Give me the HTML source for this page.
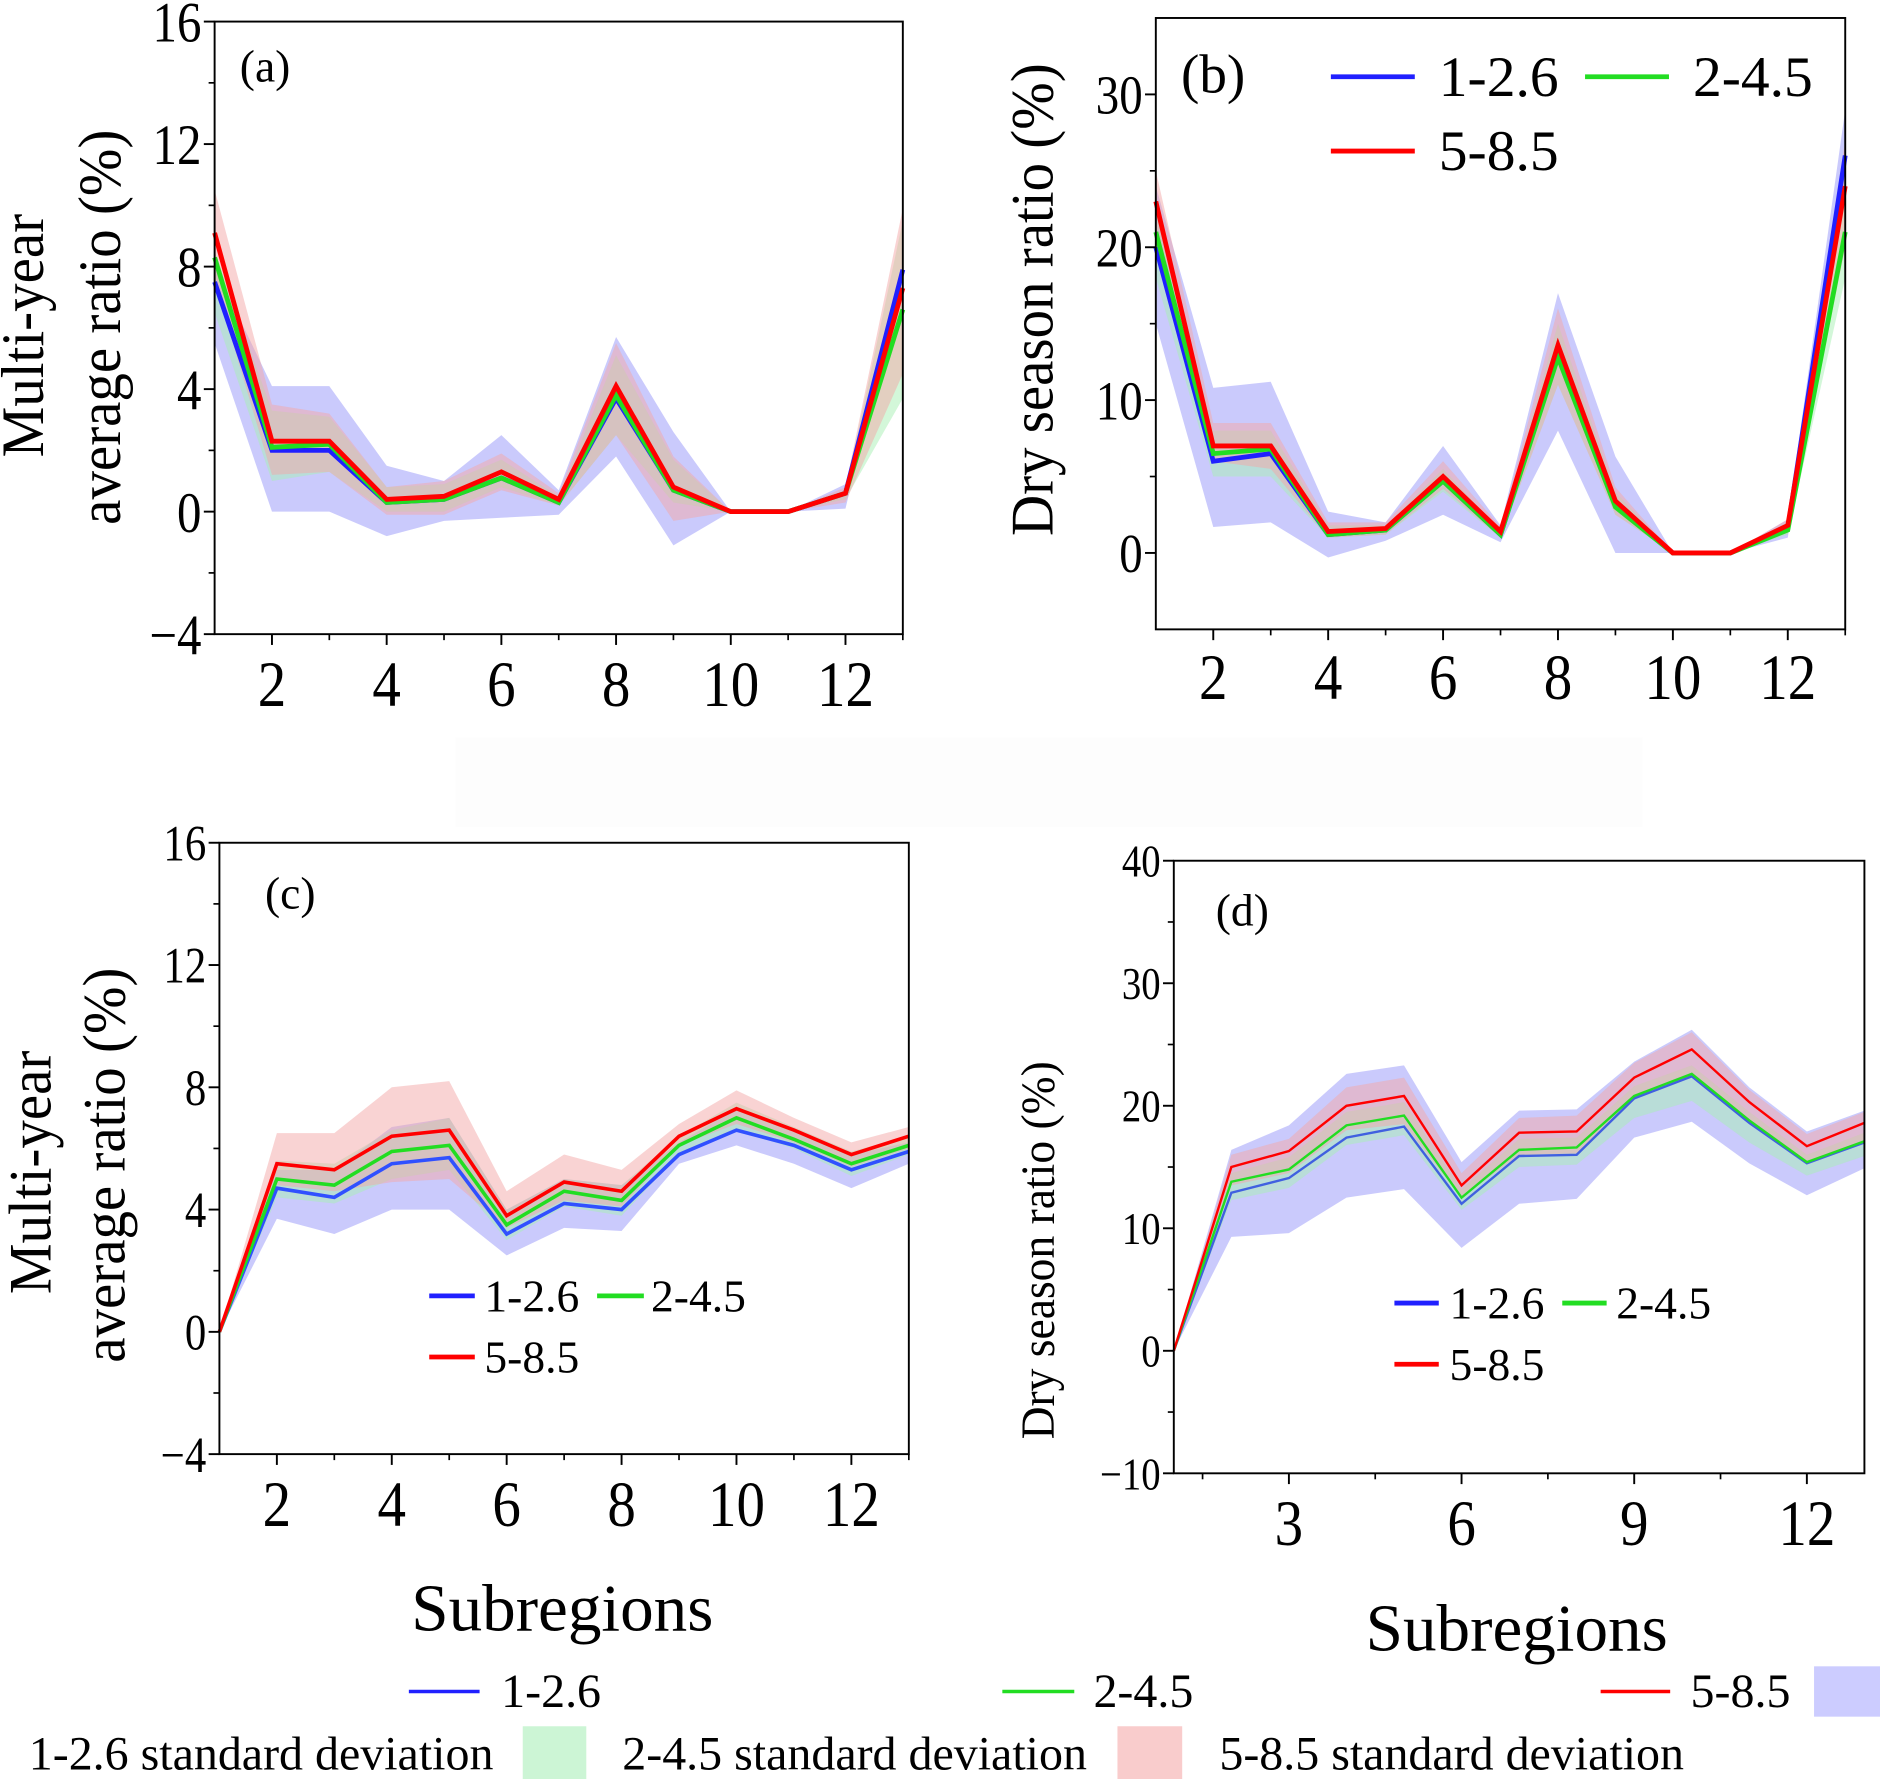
<!DOCTYPE html>
<html><head><meta charset="utf-8"><style>
html,body{margin:0;padding:0;background:#fff}
svg{display:block;font-family:"Liberation Serif",serif}
text{font-family:"Liberation Serif",serif}
</style></head><body>
<svg id="fig" width="1880" height="1779" viewBox="0 0 1568 1484" preserveAspectRatio="none" xmlns="http://www.w3.org/2000/svg">
<rect x="380" y="615" width="990" height="75" fill="#fdfdfd"/>
</svg>
<script>
const categories=[1,2,3,4,5,6,7,8,9,10,11,12,13];
// panel a
const aRed=[9.1,2.3,2.3,0.4,0.5,1.3,0.4,4.1,0.8,0,0,0.6,7.3];
const aGreen=[8.3,2.1,2.2,0.3,0.4,1.1,0.3,3.8,0.7,0,0,0.6,6.6];
const aBlue=[7.5,2.0,2.0,0.3,0.4,1.1,0.3,3.7,0.7,0,0,0.6,7.9];
const aBlueLo=[5.5,0,0,-0.8,-0.3,-0.2,-0.1,1.8,-1.1,0,0,0.1,7.9];
const aBlueHi=[8,4.1,4.1,1.5,1.0,2.5,0.7,5.7,2.6,0,0,0.9,7.9];
const aGreenLo=[6.5,1.0,1.3,0,0,0.8,0.2,2.5,0.3,0,0,0.4,3.7];
const aGreenHi=[8.5,3.3,3.1,0.8,0.9,1.7,0.5,5.1,1.7,0,0,0.7,9.5];
const aRedLo=[7.5,1.2,1.3,-0.1,-0.1,0.7,0.2,2.5,-0.3,0,0,0.3,4.5];
const aRedHi=[10.5,3.5,3.2,0.8,1.0,1.9,0.6,5.5,1.8,0,0,0.8,9.9];
// panel b
const bRed=[23,7,7,1.4,1.6,5,1.4,13.6,3.4,0,0,1.8,24];
const bGreen=[21,6.5,6.8,1.2,1.5,4.7,1.2,12.8,3,0,0,1.5,21];
const bBlue=[20,6,6.5,1.2,1.5,4.7,1.2,13,3.1,0,0,1.6,26];
const bBlueLo=[15,1.7,2,-0.3,0.8,2.5,0.7,8,0,0,0,1,24];
const bBlueHi=[24,10.8,11.2,2.7,2,7,1.8,17,6.3,0,0,2.2,29];
const bGreenLo=[18,5,5,1,1.2,4,1,11,2.5,0,0,1.2,18];
const bGreenHi=[23,8,8,1.8,1.8,5.5,1.5,15,4,0,0,2,25];
const bRedLo=[20,6,5.5,1,1.2,4.2,1,11,2.5,0,0,1.3,20];
const bRedHi=[25,8.5,8.5,2,2,6,1.7,16,4.3,0,0,2.2,27];
// panel c
const cRed=[0,5.5,5.3,6.4,6.6,3.8,4.9,4.6,6.4,7.3,6.6,5.8,6.4];
const cGreen=[0,5.0,4.8,5.9,6.1,3.5,4.6,4.3,6.1,7.0,6.3,5.5,6.1];
const cBlue=[0,4.7,4.4,5.5,5.7,3.2,4.2,4.0,5.8,6.6,6.1,5.3,5.9];
const cBlueLo=[0,3.7,3.2,4.0,4.0,2.5,3.4,3.3,5.5,6.1,5.5,4.7,5.5];
const cBlueHi=[0,5.3,5.3,6.7,7.0,4.0,5.0,4.8,6.2,7.3,6.6,5.8,6.2];
const cGreenLo=[0,4.4,4.2,5.0,5.3,3.0,4.1,3.8,5.8,6.6,6.0,5.1,5.8];
const cGreenHi=[0,5.6,5.5,6.6,7.0,4.0,5.0,4.8,6.4,7.5,6.7,5.9,6.4];
const cRedLo=[0,4.8,4.6,4.9,5.0,3.4,4.3,4.1,6.1,6.8,6.2,5.4,6.0];
const cRedHi=[0,6.5,6.5,8.0,8.2,4.6,5.8,5.3,6.8,7.9,7.0,6.2,6.7];
// panel d
const dRed=[0,15,16.3,20,20.8,13.5,17.8,17.9,22.3,24.6,20.3,16.7,18.6];
const dGreen=[0,13.8,14.8,18.4,19.2,12.5,16.4,16.6,20.8,22.6,18.8,15.4,17.1];
const dBlue=[0,12.9,14.1,17.4,18.3,12.0,15.9,16.0,20.6,22.4,18.6,15.3,17.0];
const dBlueLo=[0,9.3,9.6,12.5,13.2,8.4,12.0,12.4,17.4,18.7,15.3,12.7,14.9];
const dBlueHi=[0,16.4,18.4,22.6,23.3,15.4,19.6,19.7,23.6,26.2,21.5,17.9,19.6];
const dGreenLo=[0,12.3,13.3,16.8,17.6,11.5,15.0,15.2,19.0,20.4,17.0,14.3,15.9];
const dGreenHi=[0,14.5,15.8,19.5,20.3,13.2,17.3,17.4,21.6,23.3,19.5,16.0,17.8];
const dRedLo=[0,13.5,14.5,18,18.5,12.5,16,16.1,20.5,22.5,18.5,15.3,17.2];
const dRedHi=[0,16,17.3,21.5,22.3,14.5,19,19.2,23.5,26,21.3,17.7,19.5];
const ticksA=[-4,0,4,8,12,16];
const ticksB=[0,10,20,30];
const ticksD=[-10,0,10,20,30,40];
const xTicksEven=[2,4,6,8,10,12];
const xTicks3=[3,6,9,12];

const NS="http://www.w3.org/2000/svg";
const svg=document.getElementById('fig');
const FF='"Liberation Serif", serif';
function el(tag,attrs,parent,text){const e=document.createElementNS(NS,tag);for(const k in attrs)e.setAttribute(k,attrs[k]);if(tag==='text')e.setAttribute('font-family',FF);if(text!==undefined)e.textContent=text;(parent||svg).appendChild(e);return e;}

function panel(o){
  const g=el('g',{});
  
  
  const xs=v=>o.L+(v-1)*(o.R-o.L)/12;
  const ys=v=>o.B-(v-o.ymin)*(o.B-o.T)/(o.ymax-o.ymin);
  function band(lo,hi,fill,op,nm){
    let d='M'+categories.map((c,i)=>xs(c)+','+ys(hi[i])).join('L');
    d+='L'+categories.slice().reverse().map((c,j)=>{const i=12-j;return xs(c)+','+ys(lo[i]);}).join('L')+'Z';
    const p=el('path',{d:d,fill:fill,'fill-opacity':op},g);
    
    
  }
  band(o.bLo,o.bHi,'#b4b4fb',0.7,'band-1-2.6');
  band(o.gLo,o.gHi,'#a8efb4',0.5,'band-2-4.5');
  band(o.rLo,o.rHi,'#f3a8a8',0.5,'band-5-8.5');
  function line(vals,col,nm){
    const p=el('polyline',{points:categories.map((c,i)=>xs(c)+','+ys(vals[i])).join(' '),fill:'none',stroke:col,'stroke-width':o.lw,'stroke-linejoin':'miter'},g);
    
    
  }
  line(o.blue,o.blueCol||'#2020ff','line-1-2.6');
  line(o.green,'#22dd22','line-2-4.5');
  line(o.red,'#ff0000','line-5-8.5');
  const fr=el('rect',{x:o.L,y:o.T,width:o.R-o.L,height:o.B-o.T,fill:'none',stroke:'#000','stroke-width':1.6},g);
  
  
  const step=o.yt[1]-o.yt[0];
  o.yt.forEach((t,i)=>{
    el('line',{x1:o.L-9,x2:o.L,y1:ys(t),y2:ys(t),stroke:'#000','stroke-width':1.6},g);
    if(i<o.yt.length-1){const m=t+step/2;el('line',{x1:o.L-5,x2:o.L,y1:ys(m),y2:ys(m),stroke:'#000','stroke-width':1.4},g);}
    const tx=el('text',{x:0,y:0,'text-anchor':'end','font-size':o.yfs,transform:'translate('+(o.L-11)+','+(ys(t)+o.yfs*0.35)+') scale(0.85,1)'},g,(t<0?'\u2212'+(-t):t));
    
    
  });
  const xstep=o.xt[1]-o.xt[0];
  o.xt.forEach(t=>{
    el('line',{x1:xs(t),x2:xs(t),y1:o.B,y2:o.B+9,stroke:'#000','stroke-width':1.6},g);
    const m=t-xstep/2; if(m>1) el('line',{x1:xs(m),x2:xs(m),y1:o.B,y2:o.B+5,stroke:'#000','stroke-width':1.4},g);
    const tx=el('text',{x:0,y:0,'text-anchor':'middle','font-size':o.xfs,transform:'translate('+xs(t)+','+(o.B+o.xdy)+') scale(0.88,1)'},g,t);
    
    
  });
  const last=o.xt[o.xt.length-1]+xstep/2; if(last<=13) el('line',{x1:xs(last),x2:xs(last),y1:o.B,y2:o.B+5,stroke:'#000','stroke-width':1.4},g);
  const lb=el('text',{x:o.lx,y:o.ly,'font-size':o.lfs},g,o.label);
  
  
  o.titles.forEach(t=>{
    const tt=el('text',{x:0,y:0,'text-anchor':'middle','font-size':t.fs,transform:'translate('+t.x+','+t.y+') rotate(-90) scale(0.95,1)'},g,t.s);
    
    
  });
}
panel({name:'panel-a',L:179,R:753,T:18,B:529,ymin:-4,ymax:16,yt:ticksA,xt:xTicksEven,yfs:48,xfs:54,xdy:60,lw:4,
 red:aRed,green:aGreen,blue:aBlue,bLo:aBlueLo,bHi:aBlueHi,gLo:aGreenLo,gHi:aGreenHi,rLo:aRedLo,rHi:aRedHi,
 label:'(a)',lx:200,ly:68,lfs:38,titles:[{s:'Multi-year',x:36,y:280,fs:50},{s:'average ratio (%)',x:100,y:273,fs:50}]});
panel({name:'panel-b',L:964,R:1539,T:15,B:525,ymin:-5,ymax:35,yt:ticksB,xt:xTicksEven,yfs:46,xfs:54,xdy:58,lw:4,
 red:bRed,green:bGreen,blue:bBlue,bLo:bBlueLo,bHi:bBlueHi,gLo:bGreenLo,gHi:bGreenHi,rLo:bRedLo,rHi:bRedHi,
 label:'(b)',lx:985,ly:77,lfs:46,titles:[{s:'Dry season ratio (%)',x:878,y:250,fs:50}]});
panel({name:'panel-c',L:183,R:758,T:703,B:1213,ymin:-4,ymax:16,yt:ticksA,xt:xTicksEven,yfs:42,xfs:54,xdy:60,lw:3,
 red:cRed,green:cGreen,blue:cBlue,bLo:cBlueLo,bHi:cBlueHi,gLo:cGreenLo,gHi:cGreenHi,rLo:cRedLo,rHi:cRedHi,blueCol:'#3050ff',
 label:'(c)',lx:221,ly:758,lfs:38,titles:[{s:'Multi-year',x:42,y:978,fs:50},{s:'average ratio (%)',x:104,y:972,fs:50}]});
panel({name:'panel-d',L:979,R:1555,T:718,B:1229,ymin:-10,ymax:40,yt:ticksD,xt:xTicks3,yfs:38,xfs:54,xdy:60,lw:2,
 red:dRed,green:dGreen,blue:dBlue,bLo:dBlueLo,bHi:dBlueHi,gLo:dGreenLo,gHi:dGreenHi,rLo:dRedLo,rHi:dRedHi,blueCol:'#4060e0',
 label:'(d)',lx:1014,ly:772,lfs:38,titles:[{s:'Dry season ratio (%)',x:879,y:1043,fs:40}]});

function legLine(x1,x2,y,col,w,nm){const l=el('line',{x1:x1,x2:x2,y1:y,y2:y,stroke:col,'stroke-width':w});}
function txt(x,y,fs,s,nm){const t=el('text',{x:x,y:y,'font-size':fs},svg,s);}
legLine(1110,1180,64,'#2020ff',4,'legend-b-line-1-2.6');txt(1200,80,48,'1-2.6','legend-b-label-1-2.6');
legLine(1322,1392,64,'#22dd22',4,'legend-b-line-2-4.5');txt(1412,80,48,'2-4.5','legend-b-label-2-4.5');
legLine(1110,1180,126,'#ff0000',4,'legend-b-line-5-8.5');txt(1200,142,48,'5-8.5','legend-b-label-5-8.5');
legLine(358,396,1081,'#2020ff',4,'legend-c-line-1-2.6');txt(404,1094,38,'1-2.6','legend-c-label-1-2.6');
legLine(498,537,1081,'#22dd22',4,'legend-c-line-2-4.5');txt(543,1094,38,'2-4.5','legend-c-label-2-4.5');
legLine(358,396,1132,'#ff0000',4,'legend-c-line-5-8.5');txt(404,1145,38,'5-8.5','legend-c-label-5-8.5');
legLine(1163,1200,1087,'#2020ff',4,'legend-d-line-1-2.6');txt(1209,1100,38,'1-2.6','legend-d-label-1-2.6');
legLine(1303,1340,1087,'#22dd22',4,'legend-d-line-2-4.5');txt(1348,1100,38,'2-4.5','legend-d-label-2-4.5');
legLine(1163,1200,1138,'#ff0000',4,'legend-d-line-5-8.5');txt(1209,1151,38,'5-8.5','legend-d-label-5-8.5');
txt(343,1360,56,'Subregions','x-axis-title-left');
txt(1139,1377,56,'Subregions','x-axis-title-right');
legLine(341,400,1411,'#2020ff',3,'legend-line-1-2.6');txt(418,1424,40,'1-2.6','legend-label-1-2.6');
legLine(836,896,1411,'#22dd22',3,'legend-line-2-4.5');txt(912,1424,40,'2-4.5','legend-label-2-4.5');
legLine(1335,1393,1411,'#ff0000',3,'legend-line-5-8.5');txt(1410,1424,40,'5-8.5','legend-label-5-8.5');
function sw(x,y,w,h,c,nm){const r=el('rect',{x:x,y:y,width:w,height:h,fill:c});}
sw(1513,1390,55,42,'#ccccff','legend-swatch-1-2.6-sd');
txt(24,1476,40,'1-2.6 standard deviation','legend-label-1-2.6-sd');
sw(436,1440,53,44,'#ccf5d5','legend-swatch-2-4.5-sd');
txt(519,1476,40,'2-4.5 standard deviation','legend-label-2-4.5-sd');
sw(932,1440,54,44,'#f9cccc','legend-swatch-5-8.5-sd');
txt(1017,1476,40,'5-8.5 standard deviation','legend-label-5-8.5-sd');
</script>
</body></html>
